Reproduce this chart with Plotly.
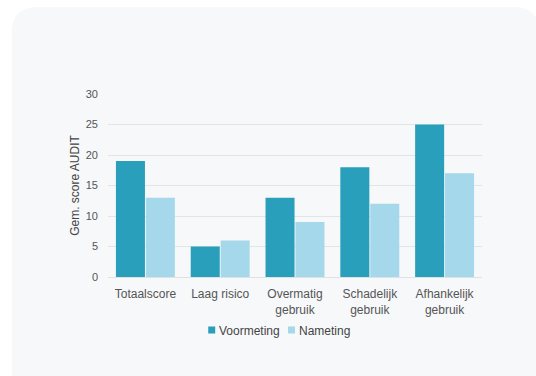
import plotly.graph_objects as go

categories = ["Totaalscore", "Laag risico", "Overmatig<br>gebruik", "Schadelijk<br>gebruik", "Afhankelijk<br>gebruik"]
series_names = ["Voormeting", "Nameting"]
voormeting = [19, 5, 13, 18, 25]
nameting = [13, 6, 9, 12, 17]
y_ticks = [0, 5, 10, 15, 20, 25, 30]
colors = ["#2a9fbc", "#a5d8ea"]

W, H = 536, 376
ML, MR, MT, MB = 107.5, 53.5, 94, 99
PW, PH = W - ML - MR, H - MT - MB


def px(x):
    return (x - ML) / PW


def py(y):
    return (H - MB - y) / PH


# rounded card background
x0, y0, x1, y1, r = 11, 7, 540, 380, 26
card = (f"M {px(x0)},{py(y0 + r)} "
        f"Q {px(x0)},{py(y0)} {px(x0 + r)},{py(y0)} "
        f"L {px(x1 - r)},{py(y0)} "
        f"Q {px(x1)},{py(y0)} {px(x1)},{py(y0 + r)} "
        f"L {px(x1)},{py(y1)} L {px(x0)},{py(y1)} Z")

fig = go.Figure()
for name, vals, col in zip(series_names, [voormeting, nameting], colors):
    fig.add_trace(go.Bar(name=name, x=categories, y=vals, showlegend=False,
                         marker=dict(color=col, line=dict(width=0))))

shapes = [dict(type="path", path=card, xref="paper", yref="paper",
               fillcolor="#f7f8fa", line=dict(width=0), layer="below")]
annotations = []
legend_x = [208, 288]
for lx, name, col in zip(legend_x, series_names, colors):
    shapes.append(dict(type="rect", xref="paper", yref="paper",
                       x0=px(lx), x1=px(lx + 7), y0=py(333.5), y1=py(326.5),
                       fillcolor=col, line=dict(width=0)))
    annotations.append(dict(text=name, xref="paper", yref="paper", x=px(lx + 9), y=py(330.5),
                            xanchor="left", yanchor="middle", showarrow=False,
                            font=dict(size=12, color="#444444")))

fig.update_layout(
    width=W, height=H,
    margin=dict(l=ML, r=MR, t=MT, b=MB, pad=0),
    paper_bgcolor="white",
    plot_bgcolor="rgba(0,0,0,0)",
    font=dict(family="Liberation Sans, Arial, sans-serif", size=12, color="#555555"),
    barmode="group", bargap=0.2, bargroupgap=0.03,
    shapes=shapes, annotations=annotations,
    showlegend=False,
    xaxis=dict(showgrid=False, showline=True, linecolor="#e0e1e3", linewidth=1,
               ticks="", ticklabelstandoff=6, tickfont=dict(size=12, color="#555555"),
               fixedrange=True),
    yaxis=dict(range=[0, 30], tickvals=y_ticks, showgrid=True, gridcolor="#e3e4e6", gridwidth=1,
               zeroline=False, showline=False, ticks="", ticklabelstandoff=9,
               tickfont=dict(size=11, color="#555555"),
               title=dict(text="Gem. score AUDIT", font=dict(size=12, color="#444444"), standoff=3),
               fixedrange=True),
)

fig.write_html("out.html")
